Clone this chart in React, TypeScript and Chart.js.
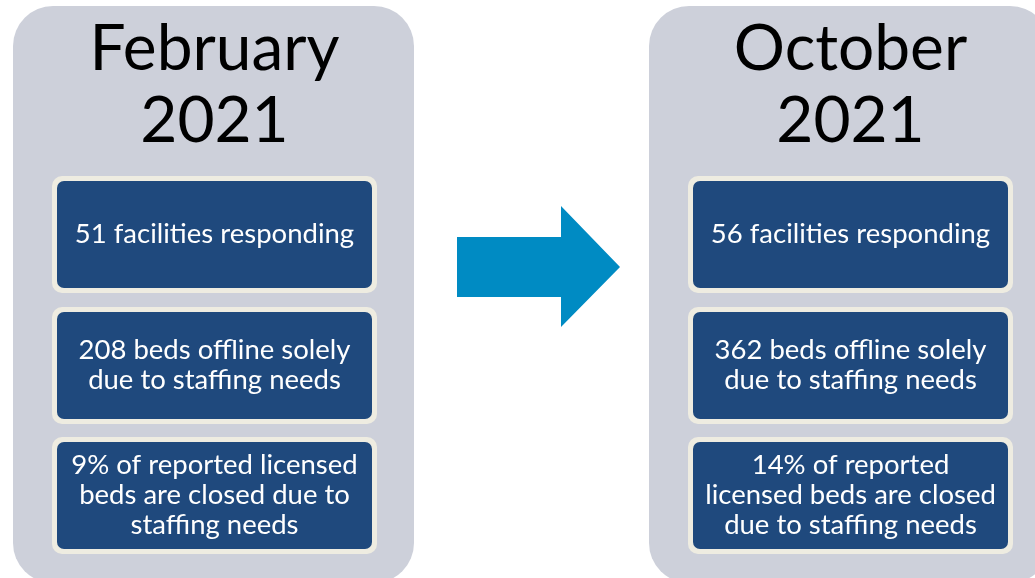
import React, { useEffect, useRef } from "react";
import { Chart, registerables } from "chart.js";

Chart.register(...registerables);

// ---- data ----
const panelTitles: string[][] = [
  ["February", "2021"],
  ["October", "2021"],
];
const facilitiesResponding: number[] = [51, 56];
const bedsOffline: number[] = [208, 362];
const pctBedsClosed: number[] = [9, 14];

const statLines: string[][][] = [
  [
    [`${facilitiesResponding[0]} facilities responding`],
    [`${bedsOffline[0]} beds offline solely`, "due to staffing needs"],
    [`${pctBedsClosed[0]}% of reported licensed`, "beds are closed due to", "staffing needs"],
  ],
  [
    [`${facilitiesResponding[1]} facilities responding`],
    [`${bedsOffline[1]} beds offline solely`, "due to staffing needs"],
    [`${pctBedsClosed[1]}% of reported`, "licensed beds are closed", "due to staffing needs"],
  ],
];

// ---- layout / style (value-space of hidden linear scales) ----
const W = 1035;
const H = 578;
const panelX = [13, 649];
const panelW = 401;
const panelTop = 6;
const panelBottom = 583;
const panelR = 40;
const boxXOffset = 39; // from panel left
const boxW = 325;
const boxTops = [176, 307, 437];
const boxH = 117;
const titleBaselines = [70, 142];

const FONT = "Lato, 'Open Sans', sans-serif";

function rr(ctx: CanvasRenderingContext2D, x: number, y: number, w: number, h: number, r: number) {
  ctx.beginPath();
  ctx.moveTo(x + r, y);
  ctx.lineTo(x + w - r, y);
  ctx.arcTo(x + w, y, x + w, y + r, r);
  ctx.lineTo(x + w, y + h - r);
  ctx.arcTo(x + w, y + h, x + w - r, y + h, r);
  ctx.lineTo(x + r, y + h);
  ctx.arcTo(x, y + h, x, y + h - r, r);
  ctx.lineTo(x, y + r);
  ctx.arcTo(x, y, x + r, y, r);
  ctx.closePath();
}

const infographicPlugin = {
  id: "infographic",
  beforeDraw(chart: any) {
    const ctx: CanvasRenderingContext2D = chart.ctx;
    const sx = chart.scales.x;
    const sy = chart.scales.y;
    const px = (v: number) => sx.getPixelForValue(v);
    const py = (v: number) => sy.getPixelForValue(v);

    ctx.save();
    ctx.fillStyle = "#ffffff";
    ctx.fillRect(0, 0, chart.width, chart.height);

    panelTitles.forEach((title, p) => {
      const x0 = panelX[p];
      // panel
      rr(ctx, px(x0), py(panelTop), px(x0 + panelW) - px(x0), py(panelBottom) - py(panelTop), panelR);
      ctx.fillStyle = "#cdd0da";
      ctx.fill();

      const cx = px(x0 + boxXOffset + boxW / 2);
      // titles
      ctx.fillStyle = "#000000";
      ctx.textAlign = "center";
      ctx.textBaseline = "alphabetic";
      ctx.font = `64px ${FONT}`;
      title.forEach((t, i) => ctx.fillText(t, cx, py(titleBaselines[i])));

      // stat boxes
      statLines[p].forEach((lines, b) => {
        const bx = px(x0 + boxXOffset);
        const by = py(boxTops[b]);
        const bw = px(x0 + boxXOffset + boxW) - bx;
        const bh = py(boxTops[b] + boxH) - by;
        rr(ctx, bx, by, bw, bh, 10);
        ctx.fillStyle = "#eeece1";
        ctx.fill();
        rr(ctx, bx + 5, by + 5, bw - 10, bh - 10, 7);
        ctx.fillStyle = "#1f497d";
        ctx.fill();

        ctx.fillStyle = "#ffffff";
        ctx.font = `27.5px ${FONT}`;
        const lh = 30;
        const cy = by + bh / 2;
        lines.forEach((l, i) => {
          const yb = cy + (i - (lines.length - 1) / 2) * lh + 8.5;
          ctx.fillText(l, cx, yb);
        });
      });
    });

    // arrow
    const pts: [number, number][] = [
      [457, 237],
      [561, 237],
      [561, 206],
      [620, 267],
      [561, 327],
      [561, 297],
      [457, 297],
    ];
    ctx.beginPath();
    pts.forEach(([x, y], i) => (i === 0 ? ctx.moveTo(px(x), py(y)) : ctx.lineTo(px(x), py(y))));
    ctx.closePath();
    ctx.fillStyle = "#008bc3";
    ctx.fill();

    ctx.restore();
  },
};

export default function App() {
  const ref = useRef<HTMLCanvasElement>(null);
  useEffect(() => {
    document.body.style.margin = "0";
    if (!ref.current) return;
    const chart = new Chart(ref.current, {
      type: "scatter",
      data: { datasets: [{ data: [] }] },
      options: {
        animation: false,
        responsive: false,
        devicePixelRatio: 1,
        layout: { padding: 0 },
        plugins: { legend: { display: false }, tooltip: { enabled: false } },
        scales: {
          x: { type: "linear", min: 0, max: W, display: false },
          y: { type: "linear", min: 0, max: H, reverse: true, display: false },
        },
      },
      plugins: [infographicPlugin],
    });
    (document as any).fonts?.ready?.then(() => chart.draw());
    return () => chart.destroy();
  }, []);
  return <canvas ref={ref} width={W} height={H} style={{ display: "block" }} />;
}
